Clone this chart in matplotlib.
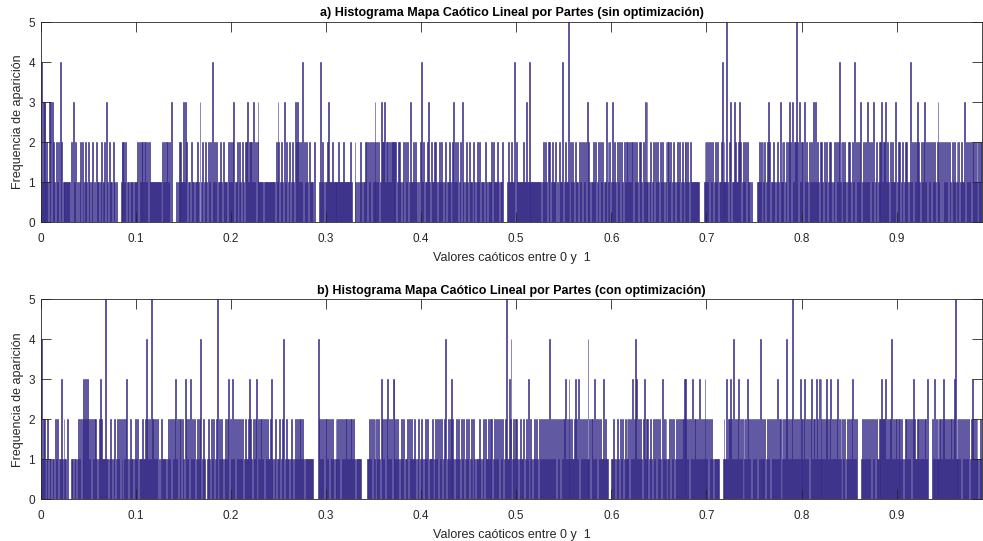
import matplotlib.pyplot as plt
import numpy as np

plt.rcParams['font.family'] = ['Liberation Sans', 'DejaVu Sans']

# conteo por bin (ancho 0.001) de los valores caóticos en [0, 0.99)
frecuencias_a = """
4133312103 3032102120 4201111111 1020312010 1202101210 2101201021 1012011203 1021102101 0000122212 0110111011
1202122212 2120211111 1111111021 2122120300 0010121211 3132011021 1011210301 2012102120 4121201012 1021110212
1230112012 1021022312 2213120231 1111011111 1111110213 2012103120 1201210320 3212140212 1021110200 0001412101
1231112111 1112111121 1111121000 2101012101 1220212021 2312120132 2312212122 2122012210 1202120131 1021210102
4120112310 2101221012 1210120112 1012312120 1203101210 2111021012 1201110210 1111202111 2101120000 1211021140
2111111211 3114111111 1111110121 2102120121 1201021140 1211510212 1021102120 2120312101 1212012021 2011302120
1312102120 2102120212 1220212102 2102131310 1201202121 0212101202 2120121012 1201210221 2102111111 1100000121
2120212012 1201124121 1510230113 2112320121 1202110100 0001121202 1201232011 2101210312 1201202320 3122520312
1203121021 2131312102 1210212012 2101202124 1202121012 2102140212 1230121213 1202130120 1212312231 2102121130
1212012012 2101412021 2312102123 1202120212 1023120202 1212021021 2102120121 1302121202 2121202122
"""

frecuencias_b = """
4122101201 1011021201 1310211020 0011011012 1202132323 2120212210 1232101151 1012101201 2120210212 3101211012
1201110211 2421215221 2120101211 1101212021 2312021202 1032120312 1201212140 1210012102 1201250121 2101212302
1312021201 2120121123 2102123012 1221202121 1231012010 1201240121 1012101210 2122121011 1111110000 0042121202
2120212101 2121202121 2212122121 0011111000 0001121202 1202121032 1202312120 3312121012 1201120212 1012101201
2101212011 1210121202 1201240121 2312101212 1021201212 0121021011 1210120211 2121201212 1202120125 1132401212
2101211201 2130121012 1210212121 2121041212 1202120212 2312132121 1232130212 1212141202 2131202121 1312110000
1121012102 1201212120 2131243121 2102312120 1210212021 2103121201 1202120121 2121223232 1202131221 2131212132
1202121011 1110000121 1312232141 2123121202 1213212021 2120214121 1201212021 2121312202 1212421212 5121212132
2123121202 3122132131 3212123212 3121212312 1202120121 2123121200 0001212121 2120212021 1212322231 2122412122
1212121012 2121202321 1202121212 2130000213 1212122123 2121212212 3512121202 1212120123 2121210121
"""

ancho_bin = 0.001
ticks_x = [0, 0.1, 0.2, 0.3, 0.4, 0.5, 0.6, 0.7, 0.8, 0.9]
etiquetas_x = ['0', '0.1', '0.2', '0.3', '0.4', '0.5', '0.6', '0.7', '0.8', '0.9']
ticks_y = [0, 1, 2, 3, 4, 5]

titulos = [
    'a) Histograma Mapa Caótico Lineal por Partes (sin optimización)',
    'b) Histograma Mapa Caótico Lineal por Partes (con optimización)',
]

color_barra = '#352a87'
gris = '#262626'


def leer(txt):
    return [int(c) for c in txt if c.isdigit()]


fig = plt.figure(figsize=(9.83, 5.41), dpi=100)
posiciones = [[0.0414, 0.5896, 0.9578, 0.3697],
              [0.0414, 0.0776, 0.9578, 0.3690]]

for pos, txt, titulo in zip(posiciones, [frecuencias_a, frecuencias_b], titulos):
    ax = fig.add_axes(pos)
    valores = leer(txt)
    bordes = np.arange(len(valores)) * ancho_bin
    ax.bar(bordes, valores, width=ancho_bin, align='edge',
           color=color_barra, edgecolor=color_barra, linewidth=0.4)

    ax.set_xlim(0, len(valores) * ancho_bin)
    ax.set_ylim(0, 5)
    ax.set_xticks(ticks_x)
    ax.set_xticklabels(etiquetas_x)
    ax.set_yticks(ticks_y)
    ax.tick_params(direction='in', top=True, right=True, length=7, width=0.6,
                   colors=gris, labelsize=8.5)
    ax.tick_params(axis='x', pad=8)
    ax.tick_params(axis='y', pad=4)
    for sp in ax.spines.values():
        sp.set_linewidth(0.6)
        sp.set_color(gris)
    ax.set_axisbelow(False)

    ax.set_title(titulo, fontsize=9, fontweight='bold', pad=4)
    ax.set_xlabel('Valores caóticos entre 0 y  1', fontsize=9, color=gris, labelpad=5)
    ax.set_ylabel('Frequencia de aparición', fontsize=9, color=gris, labelpad=3)

fig.savefig('out.png', dpi=100)
